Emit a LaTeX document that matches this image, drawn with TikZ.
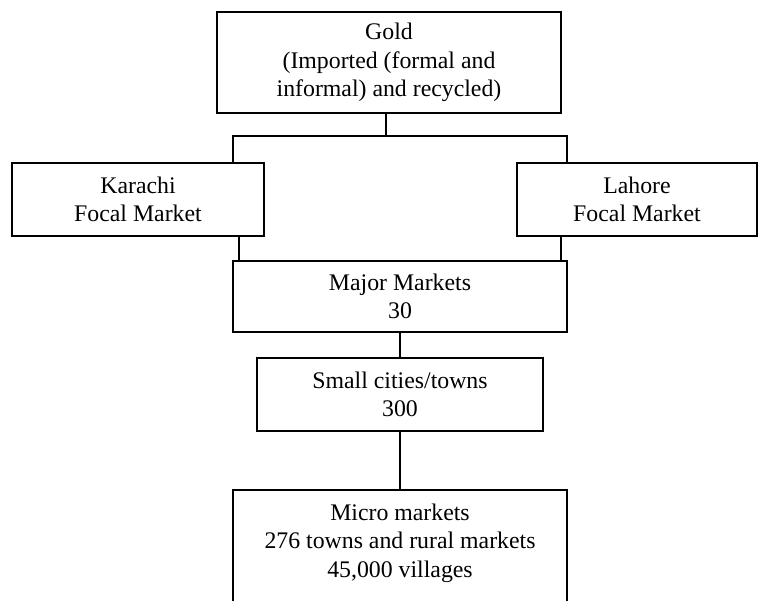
\documentclass[tikz,border=0pt]{standalone}
\usepackage{fontspec}
\setmainfont{Liberation Serif}
\begin{document}
\begin{tikzpicture}[x=1pt,y=-1pt,
  box/.style={draw, line width=1.9pt, inner sep=0pt, align=center,
    font=\fontsize{23.8}{28.5}\selectfont},
  txt/.style={inner sep=0pt, align=center, font=\fontsize{23.8}{28.5}\selectfont},
  link/.style={line width=1.9pt}]
\useasboundingbox (0,0) rectangle (759,600);
\clip (0,0) rectangle (759,600);
\fill[white] (0,0) rectangle (759,600);

% boxes
\node[box, minimum width=344pt, minimum height=101pt] (gold) at (389,62.5)
  {Gold\\(Imported (formal and\\informal) and recycled)};
\node[box, minimum width=252pt, minimum height=73pt] (karachi) at (138,199.5)
  {Karachi\\Focal Market};
\node[box, minimum width=240pt, minimum height=73pt] (lahore) at (637,199.5)
  {Lahore\\Focal Market};
\node[box, minimum width=334pt, minimum height=71pt] (major) at (400,296.5)
  {Major Markets\\30};
\node[box, minimum width=286pt, minimum height=73pt] (small) at (400,394.5)
  {Small cities/towns\\300};
\node[box, minimum width=334pt, minimum height=124pt] (micro) at (400,552) {};
\node[txt] (microtxt) at (400,543)
  {Micro markets\\276 towns and rural markets\\45,000 villages};

% connectors
\coordinate (bus) at (386,136);
\coordinate (kx) at (233,0);
\coordinate (lx) at (567,0);
\coordinate (kdown) at (239,0);
\coordinate (ldown) at (561,0);
\draw[link] (gold.south -| bus) -- (bus);
\draw[link] (karachi.north -| kx) |- (bus) -| (lahore.north -| lx);
\draw[link] (karachi.south -| kdown) -- (major.north -| kdown);
\draw[link] (lahore.south -| ldown) -- (major.north -| ldown);
\draw[link] (major.south) -- (small.north);
\draw[link] (small.south) -- (micro.north);
\end{tikzpicture}
\end{document}
